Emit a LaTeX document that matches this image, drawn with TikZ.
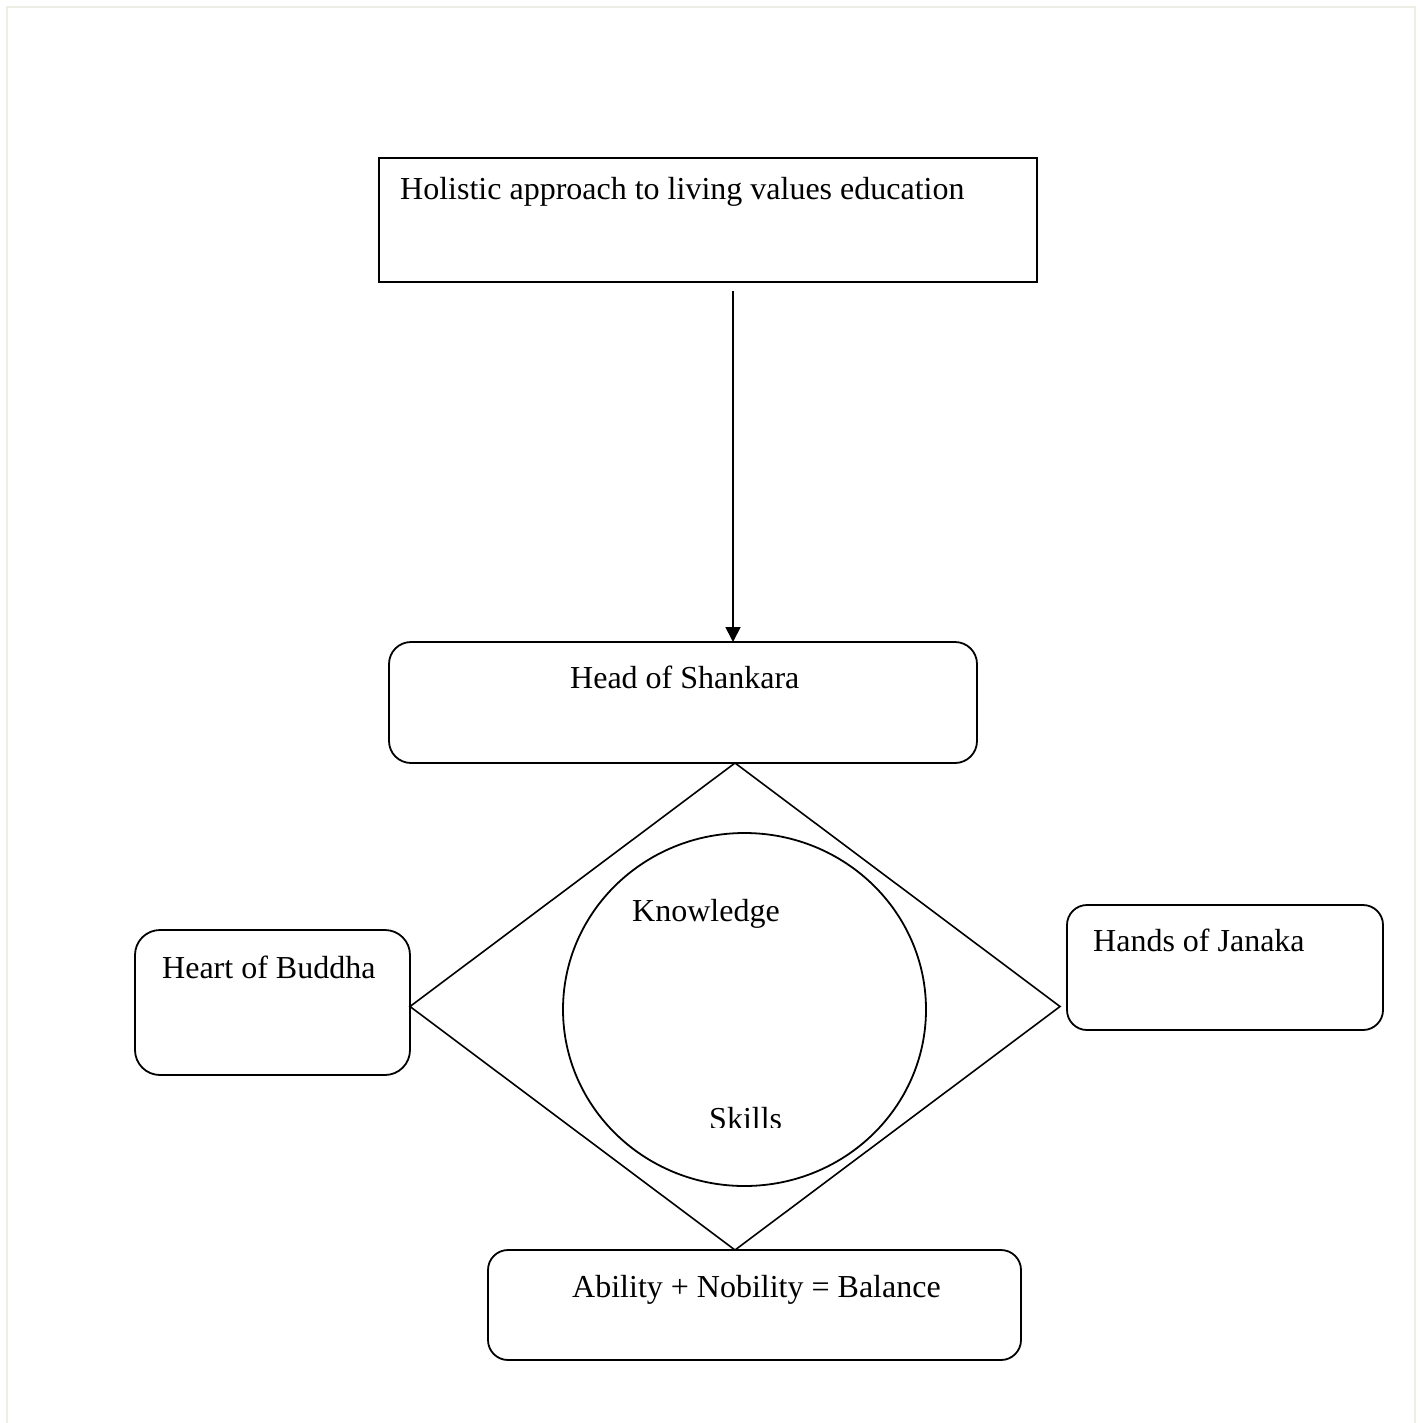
\documentclass[tikz,border=0pt]{standalone}
\usepackage{fontspec}
\setmainfont{Liberation Serif}
\usetikzlibrary{shapes.geometric,arrows.meta}
\definecolor{framecol}{HTML}{EEEEE6}
\begin{document}
\begin{tikzpicture}[x=1pt,y=-1pt,
  box/.style={draw,line width=1.8pt,inner sep=0pt,outer sep=0pt},
  rbox/.style={box,rounded corners=22pt},
  lbl/.style={anchor=base west,inner sep=0pt,font=\fontsize{32}{38}\selectfont},
  conn/.style={line width=1.8pt}]
\useasboundingbox (0,0) rectangle (1422,1423);
\draw[framecol,line width=2pt] (7,1423) -- (7,7) -- (1415,7) -- (1415,1423);
% boxes
\node[box,minimum width=658pt,minimum height=124pt] (top) at (708,220) {};
\node[rbox,minimum width=588pt,minimum height=121pt] (head) at (683,702.5) {};
\node[rbox,rounded corners=25pt,minimum width=275pt,minimum height=145pt] (heart) at (272.5,1002.5) {};
\node[rbox,rounded corners=20pt,minimum width=316pt,minimum height=125pt] (hands) at (1225,967.5) {};
\node[rbox,rounded corners=20pt,minimum width=533pt,minimum height=110pt] (ability) at (754.5,1305) {};
\node[draw,line width=1.6pt,shape=diamond,inner sep=0pt,outer sep=0pt,minimum width=650pt,minimum height=487pt] (dia) at (735,1006.5) {};
\node[draw,line width=1.8pt,shape=ellipse,inner sep=0pt,outer sep=0pt,minimum width=363pt,minimum height=353pt] (circ) at (744.5,1009.5) {};
% arrow
\coordinate (astart) at (733,291);
\draw[conn,-{Triangle[length=15pt,width=15pt]}] (astart) -- (head.north -| astart);
% labels
\node[lbl] (ttop) at (400,200) {Holistic approach to living values education};
\node[lbl] (thead) at (570,688) {Head of Shankara};
\node[lbl] (tknow) at (632,921) {Knowledge};
\begin{scope}
\clip (600,1080) rectangle (900,1127);
\node[lbl] (tskill) at (709,1129) {Skills};
\end{scope}
\node[lbl] (theart) at (162,978) {Heart of Buddha};
\node[lbl] (thands) at (1093,951) {Hands of Janaka};
\node[lbl] (tabil) at (572,1297) {Ability + Nobility = Balance};
\end{tikzpicture}
\end{document}
